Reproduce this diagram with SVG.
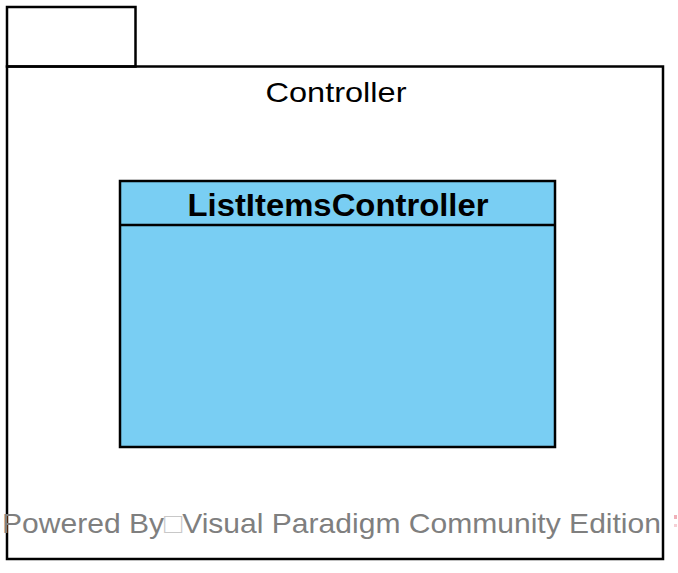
<svg xmlns="http://www.w3.org/2000/svg" width="678" height="573" viewBox="0 0 678 573">
<style>
.ln{fill:none;stroke:#000;stroke-width:2.5}
.cls{fill:#79cef3;stroke:#000;stroke-width:2.5}
.t{font-family:"Liberation Sans",Arial,sans-serif;fill:#000}
.wm{font-family:"Liberation Sans",Arial,sans-serif;fill:#7f7f7f}
</style>
<rect width="678" height="573" fill="#fff"/>
<g id="package-Controller">
<rect class="ln" x="7" y="7" width="128.5" height="59.5" fill="#fff"/>
<rect class="ln" x="7" y="66.5" width="656" height="492.5" fill="#fff"/>
<text class="t" x="336" y="101.5" font-size="28" text-anchor="middle" textLength="141" lengthAdjust="spacingAndGlyphs">Controller</text>
</g>
<g id="class-ListItemsController">
<rect class="cls" x="120" y="181" width="435" height="266"/>
<line class="ln" x1="120" y1="225" x2="555" y2="225"/>
<text class="t" x="338" y="216" font-size="31.5" font-weight="bold" text-anchor="middle" textLength="301" lengthAdjust="spacingAndGlyphs">ListItemsController</text>
</g>
<g id="connectors"></g>
<g id="watermark">
<text class="wm" x="2" y="532.5" font-size="28" textLength="659" lengthAdjust="spacingAndGlyphs">Powered By<tspan fill="#c8c8c8">□</tspan>Visual Paradigm Community Edition</text>
<rect x="674" y="515" width="3" height="4" fill="#f0b0b8"/>
<rect x="674" y="524" width="3" height="3" fill="#f5d0d5"/>
</g>
</svg>
